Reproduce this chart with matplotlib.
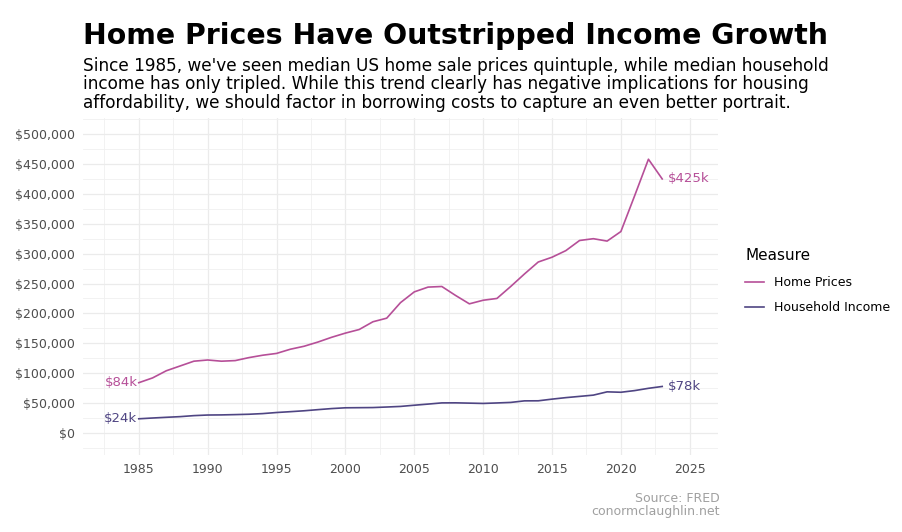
import matplotlib
matplotlib.use('Agg')
import matplotlib.pyplot as plt
from matplotlib.ticker import MultipleLocator, FuncFormatter
import numpy as np

years = list(range(1985, 2024))
home_prices = [84, 92, 104, 112, 120, 122, 120, 121, 126, 130,
               133, 140, 145, 152, 160, 167, 173, 186, 192, 218,
               236, 244, 245, 230, 216, 222, 225, 245, 266, 286,
               294, 305, 322, 325, 321, 337, 397, 458, 425]
household_income = [23.6, 24.9, 26.1, 27.2, 28.9, 29.9, 30.1, 30.6, 31.2, 32.3,
                     34.1, 35.5, 37.0, 38.9, 40.7, 42.0, 42.2, 42.4, 43.3, 44.3,
                     46.3, 48.2, 50.2, 50.3, 49.8, 49.3, 50.1, 51.0, 53.6, 53.7,
                     56.5, 59.0, 61.1, 63.2, 68.7, 68.0, 70.8, 74.6, 77.7]

PINK = '#b64f98'
PURPLE = '#4f4583'
GREY = '#4d4d4d'

home = np.array(home_prices) * 1000
income = np.array(household_income) * 1000

fig = plt.figure(figsize=(9.03, 5.32), dpi=100)
ax = fig.add_axes([83/903, 1 - 455/532, 635/903, 337/532])

ax.plot(years, home, color=PINK, lw=1.2, label='Home Prices')
ax.plot(years, income, color=PURPLE, lw=1.2, label='Household Income')

ax.text(years[0] - 0.1, home[0], '$84k', color=PINK, ha='right', va='center', fontsize=9.5)
ax.text(years[0] - 0.1, income[0], '$24k', color=PURPLE, ha='right', va='center', fontsize=9.5)
ax.text(years[-1] + 0.4, home[-1], '$425k', color=PINK, ha='left', va='center', fontsize=9.5)
ax.text(years[-1] + 0.4, income[-1], '$78k', color=PURPLE, ha='left', va='center', fontsize=9.5)

ax.set_xlim(1980.95, 2027.05)
ax.set_ylim(-37000, 527000)
ax.xaxis.set_major_locator(MultipleLocator(5))
ax.xaxis.set_minor_locator(MultipleLocator(2.5))
ax.yaxis.set_major_locator(MultipleLocator(50000))
ax.yaxis.set_minor_locator(MultipleLocator(25000))
ax.yaxis.set_major_formatter(FuncFormatter(lambda v, p: '${:,.0f}'.format(v)))
ax.grid(which='major', color='#ebebeb', lw=0.9)
ax.grid(which='minor', color='#f0f0f0', lw=0.6)
ax.set_axisbelow(True)
for s in ax.spines.values():
    s.set_visible(False)
ax.tick_params(which='both', length=0, colors=GREY, labelsize=9)
ax.tick_params(axis='y', pad=6)
ax.tick_params(axis='x', pad=6)

leg = ax.legend(title='Measure', loc='center left', bbox_to_anchor=(1.025, 0.515),
                frameon=False, fontsize=9, title_fontsize=11, handlelength=1.5,
                labelspacing=1.0)
leg._legend_box.align = 'left'

fig.text(83/903, 1 - 44/532, 'Home Prices Have Outstripped Income Growth',
         fontsize=20.4, fontweight='bold', ha='left', va='baseline')
fig.text(83/903, 1 - 108/532,
         "Since 1985, we've seen median US home sale prices quintuple, while median household\n"
         "income has only tripled. While this trend clearly has negative implications for housing\n"
         "affordability, we should factor in borrowing costs to capture an even better portrait.",
         fontsize=12.2, ha='left', va='baseline', linespacing=1.05)
fig.text(720/903, 1 - 515/532, 'Source: FRED\nconormclaughlin.net', color='#a0a0a0',
         fontsize=9, ha='right', va='baseline', multialignment='right', linespacing=1.0)

fig.savefig('out.png', dpi=100)
